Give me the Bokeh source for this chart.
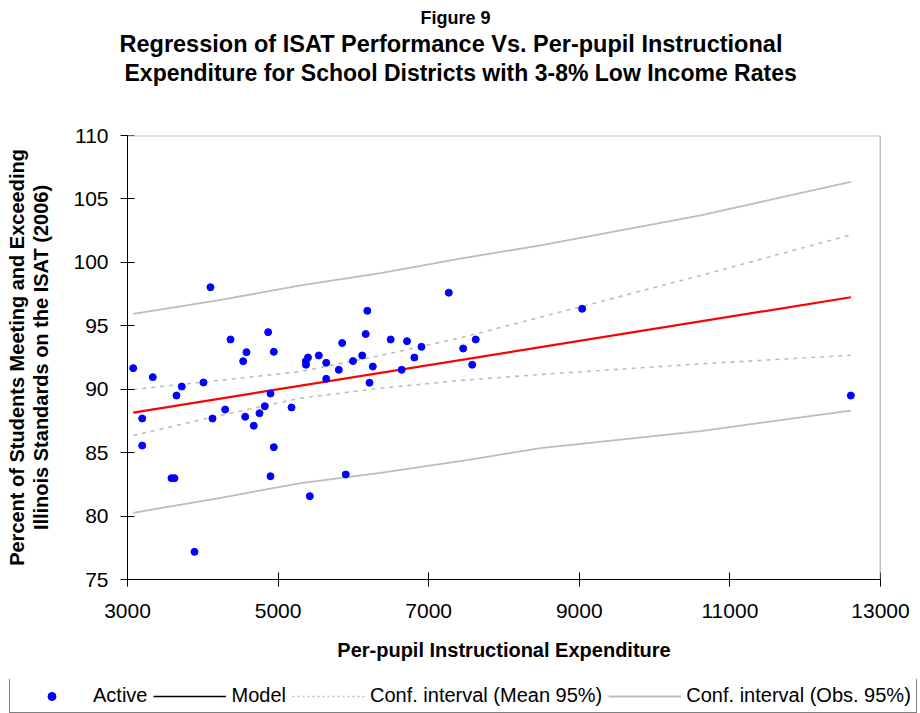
from bokeh.plotting import figure
from bokeh.layouts import column
from bokeh.models import Range1d, FixedTicker, Span, Title, Legend, LegendItem
from bokeh.embed import file_html
from bokeh.resources import INLINE

# ---- data ----
expenditure = [3076, 3336, 3195, 3195, 3584, 3624, 3651, 3721, 4009, 4102,
               4129, 3890, 4297, 4368, 4536, 4580, 4563, 4677, 4753, 4823,
               4868, 4899, 4899, 4943, 4943, 5178, 5397, 5370, 5370, 5421,
               5541, 5639, 5639, 5806, 5851, 5899, 5995, 6117, 6163, 6185,
               6214, 6258, 6495, 6641, 6712, 6809, 6904, 7267, 7458, 7578,
               7625, 9038, 12606]
isat_pct = [91.66, 90.95, 87.69, 85.56, 82.99, 82.99, 89.50, 90.21, 90.53, 98.04,
            87.69, 77.18, 88.40, 93.92, 92.21, 92.92, 87.83, 87.12, 88.11, 88.66,
            94.50, 89.66, 83.14, 92.95, 85.43, 88.56, 92.50, 92.22, 91.93, 81.57,
            92.66, 92.08, 90.82, 91.53, 93.64, 83.28, 92.22, 92.66, 94.35, 96.18,
            90.51, 91.79, 93.92, 91.53, 93.79, 92.50, 93.34, 97.61, 93.21, 91.93,
            93.92, 96.34, 89.50]

model_x = [3076, 12606]
model_y = [88.16, 97.25]

ci_x = [3076, 4200, 5300, 6360, 7420, 8485, 10610, 12606]
mean_upper = [89.98, 90.68, 91.40, 92.66, 94.05, 95.68, 98.96, 102.17]
mean_lower = [86.35, 87.90, 89.30, 90.08, 90.69, 91.16, 92.00, 92.68]
obs_upper = [95.94, 97.00, 98.18, 99.15, 100.30, 101.33, 103.70, 106.35]
obs_lower = [80.26, 81.40, 82.60, 83.40, 84.33, 85.35, 86.70, 88.32]

x_ticks = [3000, 5000, 7000, 9000, 11000, 13000]
y_ticks = [75, 80, 85, 90, 95, 100, 105, 110]
x_min, x_max = 3000, 13000
y_min, y_max = 75, 110

legend_labels = ["Active", "Model", "Conf. interval (Mean 95%)", "Conf. interval (Obs. 95%)"]

FONT = "Liberation Sans"
NAN = float("nan")

p = figure(width=920, height=679, output_backend="svg", toolbar_location=None,
           x_range=Range1d(x_min, x_max), y_range=Range1d(y_min, y_max),
           min_border_left=127, min_border_right=40,
           min_border_top=135, min_border_bottom=100,
           background_fill_color="white", border_fill_color="white")
p.frame_align = False
p.outline_line_color = None
p.xgrid.grid_line_color = None
p.ygrid.grid_line_color = None

# titles (stacked outward from the frame)
p.title.text = "Figure 9"
p.title.align = "left"
p.title.offset = 293
p.title.text_font = FONT
p.title.text_font_size = "18px"
p.title.text_font_style = "bold"
p.title.text_color = "black"
p.title.standoff = 2

spacer = Title(text=" ", text_font=FONT, text_font_size="10px", standoff=36)
t3 = Title(text="Expenditure for School Districts with 3-8% Low Income Rates",
           align="left", offset=-3, text_font=FONT, text_font_size="23px",
           text_font_style="bold", text_color="black", standoff=2)
t2 = Title(text="Regression of ISAT Performance Vs. Per-pupil Instructional",
           align="left", offset=-8, text_font=FONT, text_font_size="23.5px",
           text_font_style="bold", text_color="black", standoff=0)
p.add_layout(spacer, "above")
p.add_layout(t3, "above")
p.add_layout(t2, "above")

# axes
for ax in (p.xaxis[0], p.yaxis[0]):
    ax.axis_line_color = "black"
    ax.axis_line_width = 1
    ax.major_tick_line_color = "black"
    ax.major_tick_in = 7
    ax.major_tick_out = 7
    ax.minor_tick_line_color = None
    ax.major_label_text_font = FONT
    ax.major_label_text_font_size = "21px"
    ax.major_label_text_color = "black"
    ax.axis_label_text_font = FONT
    ax.axis_label_text_font_size = "20px"
    ax.axis_label_text_font_style = "bold"
    ax.axis_label_text_color = "black"

p.xaxis[0].ticker = FixedTicker(ticks=x_ticks)
p.yaxis[0].ticker = FixedTicker(ticks=y_ticks)
p.xaxis[0].major_label_standoff = 17
p.yaxis[0].major_label_standoff = 12
p.xaxis[0].axis_label = "Per-pupil Instructional Expenditure"
p.xaxis[0].axis_label_standoff = 18
p.yaxis[0].axis_label = "Percent of Students Meeting and Exceeding\nIllinois Standards on the ISAT (2006)"
p.yaxis[0].axis_label_standoff = 18
p.yaxis[0].axis_label_text_line_height = 1.1

# frame borders (top light gray, right darker gray)
p.add_layout(Span(location=y_max, dimension="width", line_color="#BFBFBF", line_width=2))
p.add_layout(Span(location=x_max, dimension="height", line_color="#808080", line_width=1.5))

# confidence intervals
p.line(ci_x, obs_upper, line_color="#BDBDBD", line_width=1.8)
p.line(ci_x, obs_lower, line_color="#BDBDBD", line_width=1.8)
p.line(ci_x, mean_upper, line_color="#BDBDBD", line_width=1.6, line_dash="4 5")
p.line(ci_x, mean_lower, line_color="#BDBDBD", line_width=1.6, line_dash="4 5")

# model
p.line(model_x, model_y, line_color="#FF0000", line_width=2.2)

# points
p.scatter(expenditure, isat_pct, size=7, fill_color="#0000FF", line_color="#0000FF")

# ---- legend strip (separate small figure below the chart) ----
lf = figure(width=920, height=34, output_backend="svg", toolbar_location=None,
            x_axis_type=None, y_axis_type=None, title=None,
            x_range=Range1d(0, 1), y_range=Range1d(0, 1),
            min_border_left=0, min_border_right=0, min_border_top=0, min_border_bottom=0,
            background_fill_color="white", border_fill_color="white")
lf.frame_align = False
lf.outline_line_color = None
lf.grid.visible = False

r_act = lf.scatter([NAN], [NAN], size=5, fill_color="#0000FF", line_color="#0000FF")
r_mod = lf.line([NAN, NAN], [NAN, NAN], line_color="black", line_width=1.5)
r_mean = lf.line([NAN, NAN], [NAN, NAN], line_color="#BDBDBD", line_width=1.5, line_dash="2 3")
r_obs = lf.line([NAN, NAN], [NAN, NAN], line_color="#BDBDBD", line_width=1.8)

legend = Legend(items=[LegendItem(label=legend_labels[0], renderers=[r_act]),
                       LegendItem(label=legend_labels[1], renderers=[r_mod]),
                       LegendItem(label=legend_labels[2], renderers=[r_mean]),
                       LegendItem(label=legend_labels[3], renderers=[r_obs])],
                orientation="horizontal", location=(9, 0),
                glyph_width=73, glyph_height=20, label_height=20,
                label_standoff=5, spacing=6, padding=5, margin=0,
                label_text_font=FONT, label_text_font_size="20px",
                label_text_color="black",
                border_line_color="black", border_line_width=1,
                background_fill_color="white", background_fill_alpha=1)
lf.add_layout(legend, "center")

layout = column(p, lf, spacing=0)
open("out.html", "w").write(file_html(layout, INLINE))
